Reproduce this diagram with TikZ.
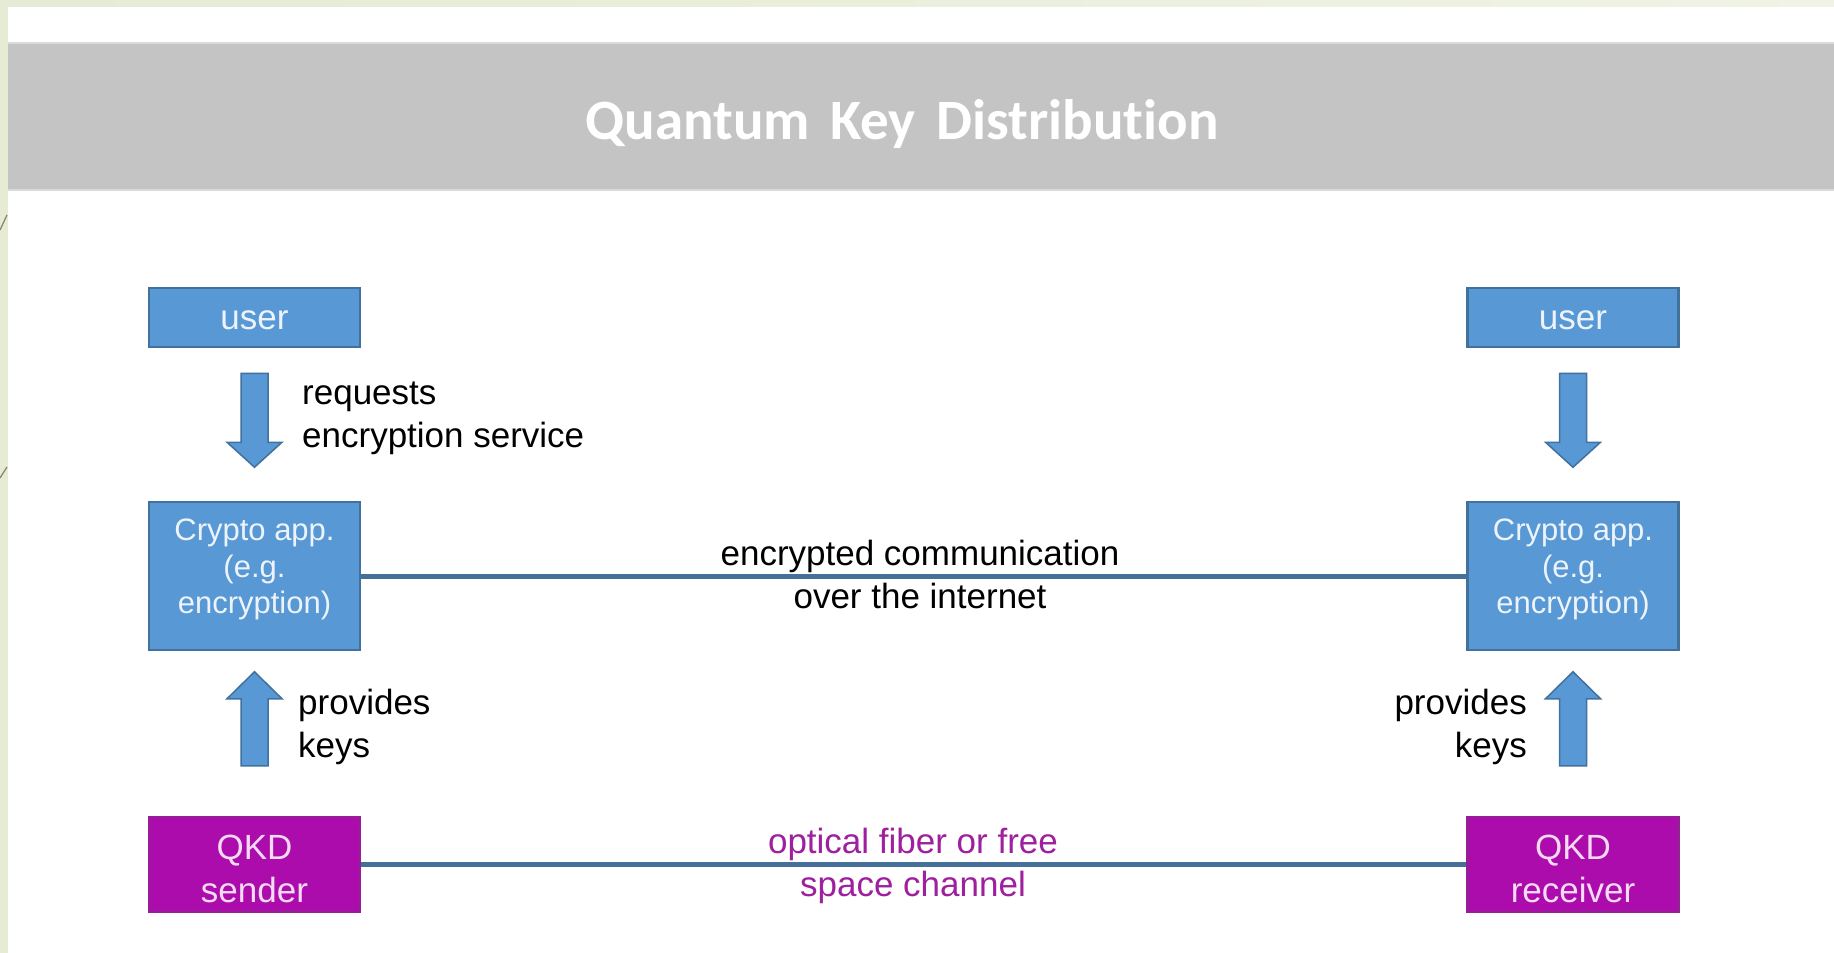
\documentclass[tikz,border=0pt]{standalone}
\usepackage{fontspec}
\setmainfont{Liberation Sans}
\newfontfamily\titlefont[WordSpace=1.6,Ligatures=NoCommon]{Carlito}

\definecolor{framegreen}{RGB}{229,235,212}
\definecolor{framegreenlight}{RGB}{240,243,229}
\definecolor{frameline}{RGB}{135,130,110}
\definecolor{bannergray}{RGB}{196,196,196}
\definecolor{banneredge}{RGB}{218,218,218}
\definecolor{boxblue}{RGB}{88,152,212}
\definecolor{boxline}{RGB}{65,113,156}
\definecolor{boxtext}{RGB}{236,243,250}
\definecolor{qkdfill}{RGB}{172,12,172}
\definecolor{qkdline}{RGB}{150,30,150}
\definecolor{qkdtext}{RGB}{246,218,246}
\definecolor{linkblue}{RGB}{68,112,154}
\definecolor{chanpurple}{RGB}{158,32,158}

% invisible struts that nudge the text inside a box up or down
\newcommand{\lifttext}[1]{\rule[-#1]{0pt}{1pt}}
\newcommand{\droptext}[1]{\rule{0pt}{#1}}

\begin{document}
\begin{tikzpicture}[x=1pt,y=-1pt,
  box/.style={draw=boxline, line width=2.5pt, fill=boxblue, text=boxtext,
    minimum width=211pt, inner sep=0pt, align=center},
  userbox/.style={box, minimum height=59pt, font=\fontsize{35}{42}\selectfont},
  cryptobox/.style={box, minimum height=148pt, font=\fontsize{31}{36.5}\selectfont},
  qkdbox/.style={box, draw=qkdline, fill=qkdfill, text=qkdtext,
    minimum height=95pt, font=\fontsize{35}{43}\selectfont},
  lbl/.style={inner sep=0pt, text=black, font=\fontsize{35}{43}\selectfont},
  link/.style={draw=linkblue, line width=5pt},
  arrowfill/.style={draw=boxline, line width=1.5pt, fill=boxblue, line join=miter},
  pics/arrowdown/.style={code={
    \draw[arrowfill] (-13.5,0) -- (13.5,0) -- (13.5,69) -- (27.5,69) -- (0,94)
      -- (-27.5,69) -- (-13.5,69) -- cycle;}},
  pics/arrowup/.style={code={
    \draw[arrowfill] (-13.5,0) -- (13.5,0) -- (13.5,-67) -- (27.5,-67) -- (0,-94)
      -- (-27.5,-67) -- (-13.5,-67) -- cycle;}}
]
\useasboundingbox (0,0) rectangle (1834,953);

% slide background and frame
\fill[white] (0,0) rectangle (1834,953);
\shade[left color=framegreen, right color=framegreenlight] (0,0) rectangle (1834,6);
\fill[framegreen] (0,0) rectangle (8,953);
\draw[frameline, line width=1.2pt] (0,230) -- (7,215);
\draw[frameline, line width=1.2pt] (0,478) -- (7,467);

% title banner
\fill[bannergray] (8,43) rectangle (1834,190);
\draw[banneredge, line width=1.2pt] (8,43) -- (1834,43);
\draw[banneredge, line width=1.2pt] (8,190) -- (1834,190);
\node[anchor=base, inner sep=0pt, text=white,
  font=\titlefont\bfseries\fontsize{57}{60}\selectfont] (title) at (902,139)
  {Quantum Key Distribution};

% left side
\node[userbox]   (uL) at (254.5,317.5) {\droptext{25pt}user};
\node[cryptobox] (cL) at (254.5,576)   {Crypto app.\\(e.g.\\encryption)\lifttext{19pt}};
\node[qkdbox]    (qL) at (254.5,864.5) {\droptext{33pt}QKD\\sender};

% right side
\node[userbox]   (uR) at (1573,317.5) {\droptext{25pt}user};
\node[cryptobox] (cR) at (1573,576)   {Crypto app.\\(e.g.\\encryption)\lifttext{19pt}};
\node[qkdbox]    (qR) at (1573,864.5) {\droptext{33pt}QKD\\receiver};

% block arrows
\path (uL.south) ++(0,25) pic {arrowdown};
\path (uR.south) ++(0,25) pic {arrowdown};
\path (qL.north) ++(0,-50) pic {arrowup};
\path (qR.north) ++(0,-50) pic {arrowup};

% annotations (base anchor sits on the last line)
\node[lbl, anchor=base west, align=left]  (req)   at (302,447)  {requests\\encryption service};
\node[lbl, anchor=base west, align=left]  (provL) at (298,757)  {provides\\keys};
\node[lbl, anchor=base east, align=right] (provR) at (1527,757) {provides\\keys};
\node[lbl, anchor=base, align=center]     (enc)   at (920,608)  {encrypted communication\\over the internet};
\node[lbl, anchor=base, align=center, text=chanpurple] (chan) at (913,896) {optical fiber or free\\space channel};

% links
\draw[link] (cL.east) -- (cR.west);
\draw[link] (qL.east) -- (qR.west);
\end{tikzpicture}
\end{document}
